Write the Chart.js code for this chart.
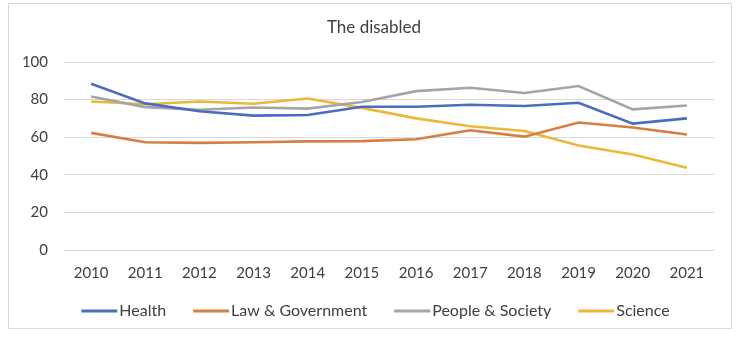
<!DOCTYPE html>
<html>
<head>
<meta charset="utf-8">
<script src="https://cdn.jsdelivr.net/npm/chart.js@4/dist/chart.umd.min.js"></script>
<style>
html,body{margin:0;padding:0;background:#fff;}
#wrap{width:741px;height:342px;position:relative;}
</style>
</head>
<body>
<div id="wrap"><canvas id="c" width="741" height="342"></canvas></div>
<script>
const titleText = "The disabled";
const years = ["2010","2011","2012","2013","2014","2015","2016","2017","2018","2019","2020","2021"];
const health = [88.4, 78.0, 73.8, 71.5, 71.8, 76.2, 76.2, 77.3, 76.6, 78.3, 67.2, 70.0];
const lawGov = [62.3, 57.3, 57.0, 57.3, 57.8, 57.9, 58.9, 63.7, 60.3, 67.8, 65.2, 61.4];
const peopleSociety = [81.7, 76.0, 74.6, 75.8, 75.2, 78.7, 84.5, 86.3, 83.5, 87.2, 74.8, 76.9];
const science = [79.0, 77.5, 79.0, 77.8, 80.6, 75.6, 70.0, 65.8, 63.3, 55.6, 50.8, 43.8];
const seriesNames = ["Health", "Law & Government", "People & Society", "Science"];
const yTicks = [0, 20, 40, 60, 80, 100];

const colors = ["#4A6DBF", "#D77E42", "#A5A5A5", "#ECB83A"];
const FONT = "Lato, 'Liberation Sans', sans-serif";
const TEXT = "#404040";

const frame = {
  id: 'frame',
  beforeDraw(chart) {
    const ctx = chart.ctx;
    ctx.save();
    ctx.fillStyle = '#fff';
    ctx.fillRect(0, 0, chart.width, chart.height);
    ctx.strokeStyle = '#d9d9d9';
    ctx.lineWidth = 1;
    ctx.strokeRect(8.5, 3.5, 723, 325);
    ctx.restore();
  },
  afterDraw(chart) {
    const ctx = chart.ctx;
    ctx.save();
    ctx.fillStyle = TEXT;
    ctx.font = "17px " + FONT;
    ctx.textAlign = 'center';
    ctx.textBaseline = 'middle';
    ctx.fillText(titleText, 374, 28);
    ctx.font = "16px " + FONT;
    ctx.textAlign = 'left';
    const lineLen = 36, gapTxt = 2, itemGap = 27;
    const widths = seriesNames.map(n => lineLen + gapTxt + ctx.measureText(n).width);
    const total = widths.reduce((a, b) => a + b, 0) + itemGap * (seriesNames.length - 1);
    let x = 375.5 - total / 2;
    const y = 311;
    seriesNames.forEach((n, i) => {
      ctx.strokeStyle = colors[i];
      ctx.lineWidth = 3;
      ctx.beginPath();
      ctx.moveTo(x, y);
      ctx.lineTo(x + lineLen, y);
      ctx.stroke();
      ctx.fillStyle = TEXT;
      ctx.fillText(n, x + lineLen + gapTxt, y);
      x += widths[i] + itemGap;
    });
    ctx.restore();
  }
};

const dataSets = [health, lawGov, peopleSociety, science].map((d, i) => ({
  label: seriesNames[i],
  data: d,
  borderColor: colors[i],
  backgroundColor: colors[i],
  borderWidth: 2.6,
  pointRadius: 0,
  tension: 0,
  fill: false
}));

new Chart(document.getElementById('c'), {
  type: 'line',
  data: { labels: years, datasets: dataSets },
  plugins: [frame],
  options: {
    responsive: false,
    animation: false,
    devicePixelRatio: 1,
    layout: { padding: { left: 0, right: 27, top: 62, bottom: 46 } },
    plugins: {
      legend: { display: false },
      title: { display: false },
      tooltip: { enabled: false }
    },
    scales: {
      x: {
        offset: true,
        grid: { display: false, drawTicks: false },
        border: { display: false },
        ticks: { color: TEXT, font: { family: FONT, size: 15 }, padding: 14, maxRotation: 0, autoSkip: false }
      },
      y: {
        min: 0, max: 100,
        afterBuildTicks(scale) { scale.ticks = yTicks.map(v => ({ value: v })); },
        afterFit(scale) { scale.width = 64; },
        grid: { color: '#d9d9d9', lineWidth: 1, drawTicks: false },
        border: { display: false },
        ticks: { color: TEXT, font: { family: FONT, size: 15 }, padding: 16 }
      }
    }
  }
});
</script>
</body>
</html>
